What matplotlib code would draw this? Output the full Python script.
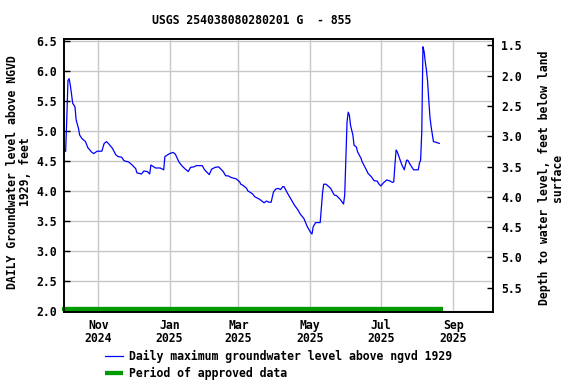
import matplotlib
matplotlib.use("Agg")
import matplotlib.pyplot as plt
import matplotlib.dates as mdates
import numpy as np
import datetime as dt

# ---- data ----
dates = [
    "2024-10-04", "2024-10-05", "2024-10-06", "2024-10-07", "2024-10-08", "2024-10-09",
    "2024-10-10", "2024-10-12", "2024-10-13", "2024-10-15", "2024-10-16", "2024-10-18",
    "2024-10-21", "2024-10-23", "2024-10-26", "2024-10-28", "2024-10-31", "2024-11-04",
    "2024-11-06", "2024-11-08", "2024-11-10", "2024-11-13", "2024-11-16", "2024-11-18",
    "2024-11-21", "2024-11-23", "2024-11-27", "2024-11-30", "2024-12-03", "2024-12-04",
    "2024-12-08", "2024-12-10", "2024-12-13", "2024-12-15", "2024-12-16", "2024-12-20",
    "2024-12-24", "2024-12-27", "2024-12-28", "2025-01-01", "2025-01-04", "2025-01-06",
    "2025-01-09", "2025-01-11", "2025-01-14", "2025-01-17", "2025-01-19", "2025-01-22",
    "2025-01-24", "2025-01-29", "2025-01-31", "2025-02-02", "2025-02-04", "2025-02-06",
    "2025-02-09", "2025-02-12", "2025-02-16", "2025-02-18", "2025-02-20", "2025-02-23",
    "2025-02-27", "2025-03-02", "2025-03-03", "2025-03-05", "2025-03-08", "2025-03-09",
    "2025-03-13", "2025-03-15", "2025-03-19", "2025-03-23", "2025-03-25", "2025-03-27",
    "2025-03-29", "2025-03-31", "2025-04-02", "2025-04-04", "2025-04-06", "2025-04-08",
    "2025-04-09", "2025-04-12", "2025-04-15", "2025-04-18", "2025-04-21", "2025-04-23",
    "2025-04-26", "2025-04-29", "2025-05-02", "2025-05-03", "2025-05-04", "2025-05-06",
    "2025-05-10", "2025-05-11", "2025-05-12", "2025-05-13", "2025-05-15", "2025-05-19",
    "2025-05-22", "2025-05-24", "2025-05-27", "2025-05-30", "2025-05-31", "2025-06-01",
    "2025-06-02", "2025-06-03", "2025-06-04", "2025-06-05", "2025-06-07", "2025-06-08",
    "2025-06-10", "2025-06-11", "2025-06-14", "2025-06-15", "2025-06-18", "2025-06-20",
    "2025-06-23", "2025-06-25", "2025-06-28", "2025-06-29", "2025-07-01", "2025-07-03",
    "2025-07-06", "2025-07-08", "2025-07-11", "2025-07-12", "2025-07-13", "2025-07-14",
    "2025-07-15", "2025-07-17", "2025-07-19", "2025-07-21", "2025-07-23", "2025-07-24",
    "2025-07-26", "2025-07-29", "2025-08-02", "2025-08-03", "2025-08-04", "2025-08-05",
    "2025-08-06", "2025-08-07", "2025-08-08", "2025-08-09", "2025-08-10", "2025-08-11",
    "2025-08-12", "2025-08-13", "2025-08-15", "2025-08-17", "2025-08-20",
]
levels = [
    4.67, 5.22, 5.85, 5.88, 5.77, 5.63,
    5.47, 5.41, 5.19, 5.05, 4.94, 4.88,
    4.83, 4.73, 4.66, 4.63, 4.67, 4.67,
    4.80, 4.83, 4.79, 4.72, 4.61, 4.58,
    4.57, 4.51, 4.49, 4.44, 4.38, 4.31,
    4.29, 4.34, 4.33, 4.29, 4.44, 4.39,
    4.39, 4.36, 4.58, 4.63, 4.65, 4.62,
    4.49, 4.44, 4.38, 4.33, 4.40, 4.41,
    4.43, 4.43, 4.36, 4.32, 4.28, 4.37,
    4.40, 4.41, 4.33, 4.26, 4.26, 4.23,
    4.21, 4.16, 4.12, 4.10, 4.05, 4.01,
    3.96, 3.91, 3.87, 3.81, 3.84, 3.82,
    3.82, 3.99, 4.04, 4.05, 4.03, 4.08,
    4.08, 3.97, 3.87, 3.77, 3.69, 3.62,
    3.55, 3.41, 3.31, 3.29, 3.41, 3.48,
    3.48, 3.72, 3.97, 4.12, 4.12, 4.05,
    3.94, 3.93, 3.87, 3.79, 3.94, 4.55,
    5.16, 5.32, 5.27, 5.10, 4.94, 4.77,
    4.74, 4.66, 4.55, 4.49, 4.38, 4.30,
    4.24, 4.18, 4.17, 4.13, 4.09, 4.14,
    4.19, 4.18, 4.15, 4.16, 4.44, 4.69,
    4.66, 4.55, 4.44, 4.36, 4.52, 4.52,
    4.45, 4.36, 4.36, 4.47, 4.52, 4.99,
    6.41, 6.33, 6.16, 6.02, 5.83, 5.52,
    5.24, 5.08, 4.83, 4.82, 4.80,
]
approved_start = "2024-10-01"
approved_end = "2025-08-23"
approved_level = 2.035

title = "USGS 254038080280201 G  - 855"
left_label = "DAILY Groundwater level above NGVD\n1929, feet"
right_label = "Depth to water level, feet below land\nsurface"
left_ticks = [2.0, 2.5, 3.0, 3.5, 4.0, 4.5, 5.0, 5.5, 6.0, 6.5]
right_ticks = [1.5, 2.0, 2.5, 3.0, 3.5, 4.0, 4.5, 5.0, 5.5]
x_ticks = ["2024-11-01", "2025-01-01", "2025-03-01", "2025-05-01", "2025-07-01", "2025-09-01"]
x_ticklabels = ["Nov\n2024", "Jan\n2025", "Mar\n2025", "May\n2025", "Jul\n2025", "Sep\n2025"]
legend_labels = ["Daily maximum groundwater level above ngvd 1929", "Period of approved data"]

# ---- figure ----
W, H = 576, 384
fig = plt.figure(figsize=(W / 100, H / 100), dpi=100)
FONT = dict(family="DejaVu Sans Mono", weight="bold", size=8.3)

ax_l, ax_r, ax_t, ax_b = 64, 493, 39, 312
ax = fig.add_axes([ax_l / W, 1 - ax_b / H, (ax_r - ax_l) / W, (ax_b - ax_t) / H])

to_dt = lambda s: dt.datetime.strptime(s, "%Y-%m-%d")
xd = [to_dt(s) for s in dates]

line, = ax.plot(xd, levels, color="#0000ff", lw=0.9, zorder=3)
bar, = ax.plot([to_dt(approved_start), to_dt(approved_end)], [approved_level, approved_level],
               color="#009900", lw=3.1, solid_capstyle="butt", zorder=4, clip_on=False)

x0 = mdates.date2num(to_dt("2024-11-01"))
ax.set_xlim(x0 - 29.4, x0 + 338)
ax.set_ylim(1.99, 6.54)

ax.set_yticks(left_ticks)
ax.set_yticklabels([f"{v:.1f}" for v in left_ticks], fontdict=FONT)
ax.set_xticks([mdates.date2num(to_dt(s)) for s in x_ticks])
ax.set_xticklabels(x_ticklabels, fontdict=FONT, linespacing=1.05)
ax.grid(True, color="#c8c8c8", lw=1.0, zorder=0)
ax.tick_params(axis="both", direction="in", length=4, width=1, color="black")
ax.tick_params(axis="y", pad=5)
ax.tick_params(axis="x", pad=5, length=0)
for s in ax.spines.values():
    s.set_linewidth(1.2)

ax2 = ax.twinx()
ax2.set_position(ax.get_position())
ax2.set_ylim(5.90, 1.396)
ax2.set_yticks(right_ticks)
ax2.set_yticklabels([f"{v:.1f}" for v in right_ticks], fontdict=FONT)
ax2.tick_params(axis="y", direction="in", length=4, width=1, pad=6)
for s in ax2.spines.values():
    s.set_linewidth(1.2)

fig.text(252 / W, 1 - 20 / H, title, ha="center", va="center", **FONT)
fig.text(19 / W, 1 - 172 / H, left_label, rotation=90, ha="center", va="center",
         multialignment="center", linespacing=1.0, **FONT)
fig.text(551 / W, 1 - 178 / H, right_label, rotation=90, ha="center", va="center",
         multialignment="center", linespacing=1.0, **FONT)

fig.legend([line, bar], legend_labels, loc="upper left",
           bbox_to_anchor=(105 / W, 1 - 350 / H), frameon=False,
           prop=dict(family="DejaVu Sans Mono", weight="bold", size=8.3),
           handlelength=1.6, handletextpad=0.45, labelspacing=0.35, borderpad=0,
           borderaxespad=0)

fig.savefig("out.png", dpi=100)
